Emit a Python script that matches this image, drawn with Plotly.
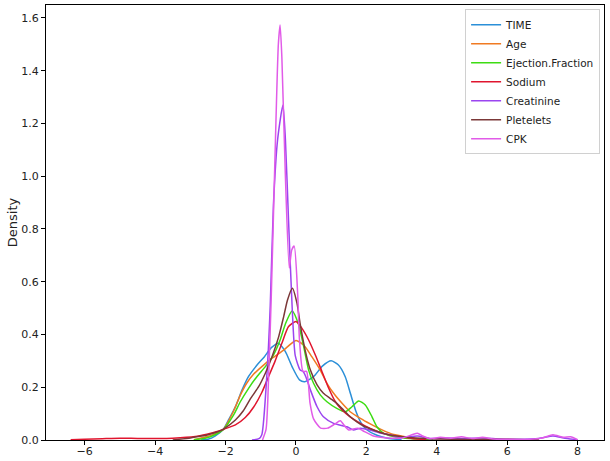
import plotly.graph_objects as go

# KDE curves of the standardized features
time_x = [-2.7, -2.5, -2.3, -2.06, -1.9, -1.72, -1.53, -1.35, -1.1, -0.9, -0.7, -0.5, -0.3, -0.1,
          0.1, 0.25, 0.5, 0.75, 1.0, 1.2, 1.4, 1.55, 1.7, 1.85, 2.0, 2.3, 2.6, 3.0]
time_y = [0.0, 0.003, 0.015, 0.041, 0.08, 0.126, 0.19, 0.24, 0.285, 0.315, 0.35, 0.367, 0.335, 0.275,
          0.228, 0.221, 0.24, 0.28, 0.30, 0.285, 0.24, 0.175, 0.11, 0.065, 0.04, 0.018, 0.007, 0.001]

age_x = [-2.9, -2.55, -2.25, -2.06, -1.77, -1.58, -1.4, -1.2, -0.92, -0.68, -0.35, 0.0, 0.22, 0.45,
         0.69, 0.88, 1.07, 1.31, 1.54, 1.83, 2.11, 2.4, 2.68, 2.96, 3.3, 3.7]
age_y = [0.001, 0.012, 0.026, 0.041, 0.11, 0.17, 0.215, 0.25, 0.284, 0.31, 0.341, 0.377, 0.36, 0.316,
         0.265, 0.215, 0.177, 0.139, 0.107, 0.082, 0.061, 0.041, 0.025, 0.016, 0.007, 0.001]

ef_x = [-2.9, -2.58, -2.3, -2.06, -1.77, -1.58, -1.35, -1.11, -0.87, -0.64, -0.45, -0.3, -0.11, 0.07,
        0.22, 0.36, 0.5, 0.69, 0.88, 1.16, 1.4, 1.59, 1.78, 1.97, 2.16, 2.3, 2.49, 2.77, 3.1, 3.5, 3.9]
ef_y = [0.001, 0.007, 0.02, 0.04, 0.095, 0.145, 0.195, 0.24, 0.278, 0.322, 0.379, 0.44, 0.489, 0.44,
        0.354, 0.265, 0.215, 0.171, 0.145, 0.12, 0.107, 0.126, 0.148, 0.133, 0.088, 0.05, 0.025, 0.013,
        0.007, 0.004, 0.001]

sodium_x = [-6.4, -6.0, -5.5, -5.0, -4.5, -4.0, -3.5, -2.86, -2.53, -2.24, -2.05, -1.72, -1.44, -1.2,
            -0.97, -0.78, -0.59, -0.4, -0.21, 0.0, 0.17, 0.36, 0.55, 0.74, 0.93, 1.12, 1.31, 1.54, 1.83,
            2.11, 2.4, 2.68, 2.96, 3.3, 3.7]
sodium_y = [0.001, 0.003, 0.005, 0.007, 0.006, 0.006, 0.007, 0.013, 0.022, 0.032, 0.041, 0.057, 0.085,
            0.125, 0.18, 0.24, 0.3, 0.367, 0.43, 0.449, 0.423, 0.379, 0.322, 0.259, 0.196, 0.145, 0.114,
            0.088, 0.063, 0.044, 0.029, 0.019, 0.013, 0.006, 0.001]

creat_x = [-1.25, -1.05, -0.97, -0.82, -0.73, -0.64, -0.52, -0.37, -0.3, -0.21, -0.11, -0.02, 0.12,
           0.2, 0.28, 0.41, 0.6, 0.78, 1.07, 1.45, 1.63, 1.83, 2.1, 2.4, 2.68, 3.0, 3.45, 3.8, 4.3,
           4.8, 5.3, 5.8, 6.3, 6.9, 7.3, 7.6, 8.0]
creat_y = [0.0, 0.005, 0.02, 0.26, 0.51, 0.89, 1.14, 1.27, 1.14, 0.83, 0.51, 0.32, 0.265, 0.26, 0.24,
           0.19, 0.126, 0.088, 0.063, 0.05, 0.038, 0.045, 0.038, 0.026, 0.019, 0.01, 0.015, 0.006,
           0.008, 0.006, 0.008, 0.004, 0.003, 0.006, 0.015, 0.008, 0.001]

plat_x = [-3.5, -3.0, -2.86, -2.5, -2.2, -2.06, -1.72, -1.5, -1.3, -1.06, -0.87, -0.68, -0.49, -0.35,
          -0.24, -0.1, 0.03, 0.12, 0.26, 0.41, 0.6, 0.78, 0.97, 1.16, 1.35, 1.54, 1.73, 1.92, 2.2,
          2.49, 2.87, 3.4, 4.0, 5.0, 6.0, 6.9]
plat_y = [0.0, 0.008, 0.011, 0.02, 0.032, 0.041, 0.076, 0.11, 0.155, 0.202, 0.253, 0.316, 0.392, 0.467,
          0.531, 0.575, 0.518, 0.44, 0.341, 0.265, 0.209, 0.177, 0.158, 0.139, 0.114, 0.088, 0.069,
          0.053, 0.038, 0.025, 0.015, 0.008, 0.004, 0.002, 0.003, 0.0]

cpk_x = [-0.95, -0.85, -0.8, -0.7, -0.6, -0.5, -0.45, -0.4, -0.3, -0.19, -0.12, -0.05, 0.05, 0.1, 0.2,
         0.3, 0.4, 0.5, 0.7, 0.9, 1.1, 1.26, 1.4, 1.5, 1.75, 1.9, 2.2, 2.6, 3.0, 3.3, 3.45, 3.6, 3.8,
         4.1, 4.4, 4.7, 5.0, 5.3, 5.6, 6.0, 6.5, 7.0, 7.3, 7.6, 7.8, 8.0]
cpk_y = [0.0, 0.04, 0.15, 0.55, 1.05, 1.5, 1.573, 1.45, 1.0, 0.652, 0.72, 0.735, 0.55, 0.38, 0.26,
         0.26, 0.14, 0.08, 0.045, 0.045, 0.06, 0.073, 0.05, 0.038, 0.045, 0.035, 0.015, 0.008, 0.007,
         0.02, 0.026, 0.015, 0.005, 0.01, 0.007, 0.012, 0.006, 0.01, 0.004, 0.003, 0.002, 0.008,
         0.02, 0.01, 0.012, 0.001]

series = [
    ("TIME", time_x, time_y, "#2b8fd8"),
    ("Age", age_x, age_y, "#f07a22"),
    ("Ejection.Fraction", ef_x, ef_y, "#3ddc13"),
    ("Sodium", sodium_x, sodium_y, "#e0152e"),
    ("Creatinine", creat_x, creat_y, "#9b45f0"),
    ("Pletelets", plat_x, plat_y, "#7b3838"),
    ("CPK", cpk_x, cpk_y, "#e15be8"),
]

fig = go.Figure()
for name, xs, ys, color in series:
    fig.add_trace(go.Scatter(
        x=xs, y=ys, mode="lines", name=name,
        line=dict(color=color, width=1.5, shape="spline", smoothing=0.6)
    ))

axis_style = dict(
    showline=True, linecolor="black", linewidth=1, mirror=True,
    ticks="outside", ticklen=4, tickcolor="black",
    showgrid=False, zeroline=False, automargin=False,
    tickfont=dict(family="DejaVu Sans", size=11, color="#222"),
)

fig.update_layout(
    width=610, height=461,
    margin=dict(l=46, r=6, t=5, b=21),
    paper_bgcolor="white", plot_bgcolor="white",
    font=dict(family="DejaVu Sans", size=11, color="#222"),
    showlegend=True,
    legend=dict(
        x=0.993, y=0.99, xanchor="right", yanchor="top",
        bgcolor="rgba(255,255,255,0.8)", bordercolor="#d0d0d0", borderwidth=1,
        font=dict(size=10.5), tracegroupgap=0, itemwidth=30,
    ),
)
fig.update_xaxes(range=[-7.1, 8.75], tickvals=[-6, -4, -2, 0, 2, 4, 6, 8],
                 ticklabelstandoff=-3, **axis_style)
fig.update_yaxes(range=[0, 1.649], tickvals=[0, 0.2, 0.4, 0.6, 0.8, 1.0, 1.2, 1.4, 1.6],
                 tickformat=".1f", title=dict(text="Density", standoff=0), **axis_style)

# drop the page's default body margin so the figure sits at the window's corner
fig.write_html("out.html", config={"displayModeBar": False},
               post_script="document.body.style.margin = '0';")
